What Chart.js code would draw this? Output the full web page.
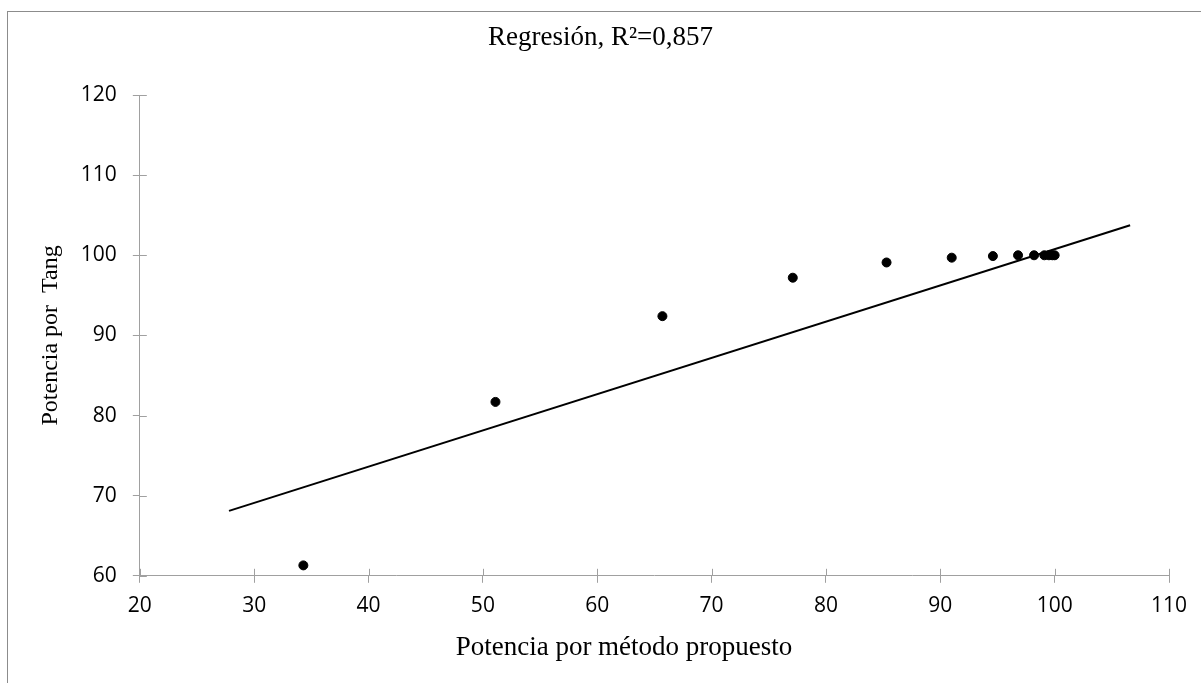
<!DOCTYPE html>
<html>
<head>
<meta charset="utf-8">
<script src="https://cdn.jsdelivr.net/npm/chart.js@4.4.1/dist/chart.umd.min.js"></script>
<style>
  html, body { margin:0; padding:0; background:#fff; overflow:hidden; }
  #wrap { position:relative; width:1201px; height:683px; }
  #frame { position:absolute; left:7px; top:11px; width:1300px; height:800px; border:1px solid #8c8c8c; box-sizing:border-box; pointer-events:none; }
  canvas { position:absolute; left:0; top:0; }
</style>
</head>
<body>
<div id="wrap">
  <canvas id="chart" width="1201" height="683"></canvas>
  <div id="frame"></div>
</div>
<script>
/* Regresión: Potencia por método propuesto vs Potencia por Tang */
const puntosX = [34.3, 51.1, 65.7, 77.1, 85.3, 91.0, 94.6, 96.8, 98.2, 99.1, 99.5, 99.8, 100.0];
const puntosY = [61.3, 81.7, 92.4, 97.2, 99.1, 99.7, 99.9, 100.0, 100.0, 100.0, 100.0, 100.0, 100.0];
const rectaX = [27.8, 106.6];
const rectaY = [68.1, 103.75];

const titulo = 'Regresión, R²=0,857';
const tituloX = 'Potencia por método propuesto';
const tituloY = 'Potencia por  Tang';

const serif = "'Liberation Serif', 'Times New Roman', serif";
const sans = "'Open Sans', 'Noto Sans', sans-serif";
const gris = '#a0a0a0';

// marcas de eje que cruzan la línea (estilo Excel) + títulos descentrados como en el original
const extras = {
  id: 'extras',
  afterDraw(chart) {
    const ctx = chart.ctx;
    const { x, y } = chart.scales;
    ctx.save();
    ctx.strokeStyle = gris;
    ctx.lineWidth = 1;
    ctx.beginPath();
    x.ticks.forEach(t => {
      const px = Math.round(x.getPixelForValue(t.value)) + 0.5;
      ctx.moveTo(px, y.bottom);
      ctx.lineTo(px, y.bottom - 7);
    });
    y.ticks.forEach(t => {
      const py = Math.round(y.getPixelForValue(t.value)) + 0.5;
      ctx.moveTo(x.left, py);
      ctx.lineTo(x.left + 7, py);
    });
    ctx.stroke();

    ctx.fillStyle = '#000';
    ctx.textAlign = 'center';
    ctx.textBaseline = 'middle';
    ctx.font = `27px ${serif}`;
    ctx.fillText(titulo, chart.width / 2, 38);
    ctx.fillText(tituloX, 624, 648);
    ctx.restore();
  }
};

new Chart(document.getElementById('chart'), {
  type: 'scatter',
  data: {
    datasets: [
      {
        label: 'Potencia',
        data: puntosX.map((v, i) => ({ x: v, y: puntosY[i] })),
        backgroundColor: '#000',
        borderColor: '#000',
        pointRadius: 4.5,
        pointHoverRadius: 4.5
      },
      {
        label: 'Lineal',
        type: 'line',
        data: rectaX.map((v, i) => ({ x: v, y: rectaY[i] })),
        borderColor: '#000',
        borderWidth: 2,
        pointRadius: 0,
        fill: false
      }
    ]
  },
  options: {
    responsive: false,
    animation: false,
    layout: { padding: { left: 0, right: 32, top: 95, bottom: 53 } },
    plugins: {
      legend: { display: false },
      tooltip: { enabled: false },
      title: { display: false }
    },
    scales: {
      x: {
        type: 'linear',
        min: 20, max: 110,
        border: { color: gris, width: 1 },
        grid: { drawOnChartArea: false, color: gris, tickLength: 7 },
        ticks: { stepSize: 10, autoSkip: false, maxRotation: 0, color: '#000', padding: 11, font: { family: sans, size: 21 } }
      },
      y: {
        type: 'linear',
        min: 60, max: 120,
        border: { color: gris, width: 1 },
        grid: { drawOnChartArea: false, color: gris, tickLength: 7 },
        ticks: { stepSize: 10, color: '#000', padding: 16, font: { family: sans, size: 21 } },
        title: { display: true, text: tituloY, color: '#000', font: { family: serif, size: 24 }, padding: { top: 36, bottom: 0 } }
      }
    }
  },
  plugins: [extras]
});
</script>
</body>
</html>
